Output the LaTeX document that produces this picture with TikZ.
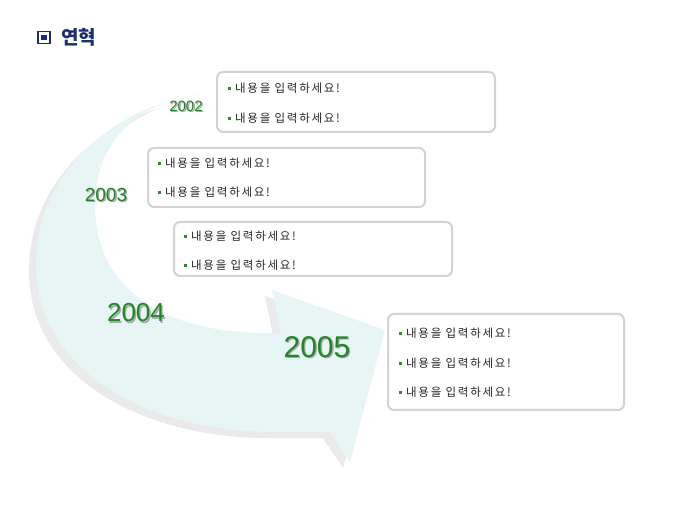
\documentclass[tikz,border=0pt]{standalone}
\usepackage{fontspec}
\setmainfont{Liberation Sans}
\newfontfamily\kr[LetterSpace=15]{Noto Sans CJK KR}
\newfontfamily\krhead{Noto Sans CJK KR}
\usepackage{tikz}
\usetikzlibrary{positioning}
\usetikzlibrary{calc}
\definecolor{arrowfill}{HTML}{E8F5F5}
\definecolor{arrowgray}{HTML}{EAEAEA}
\definecolor{yeargreen}{HTML}{23852A}
\definecolor{yearshade}{HTML}{A8A8A8}
\definecolor{boxline}{HTML}{D3D3D3}
\definecolor{bulletgreen}{HTML}{2E8B2E}
\definecolor{titlenavy}{HTML}{1C2F6A}
\newcommand{\entrytext}{\textcolor{bulletgreen}{\rule[2.5pt]{3pt}{3pt}}\hspace{4pt}내용을 입력하세요!}
\tikzstyle{entrybox}=[draw=boxline,line width=2pt,rounded corners=6pt,fill=white,inner sep=0pt]
\tikzstyle{entry}=[anchor=west,inner sep=0pt,font=\kr\fontsize{11.5}{13}\selectfont,text=black!85]
\tikzstyle{year}=[text=yeargreen,inner sep=0pt]
\tikzstyle{yearshadow}=[text=yearshade,inner sep=0pt,xshift=1.3pt,yshift=-1.3pt]
\tikzset{arrowshadow/.style={fill=arrowgray,shift={(-7,6)}},
  arrowbody/.style={fill=arrowfill}}

\begin{document}
\begin{tikzpicture}[x=1pt,y=-1pt]
    \useasboundingbox[fill=white] (0,0) rectangle (680,510);
    % title
    \node[draw=titlenavy,line width=1.8pt,fill=white,minimum size=12pt,inner sep=0pt] (icon) at (44,37.5) {};
    \node[fill=titlenavy,minimum size=5.5pt,inner sep=0pt] (icondot) at (icon.center) {};
    \node[text=titlenavy,font=\krhead\bfseries\fontsize{19}{22}\selectfont,anchor=west,inner sep=0pt] (title) at (61,37.5) {연혁};

    % the big curved arrow, shadow first
    \foreach \sty in {arrowshadow,arrowbody}
      \fill[\sty] (207,93) .. controls (110,106) and (36,175) .. (36,265)
        .. controls (36,372) and (150,432) .. (275,432)
        -- (330,432) -- (350,462) -- (385,330) -- (272,290) -- (281,333)
        .. controls (150,336) and (95,280) .. (95,205)
        .. controls (95,140) and (140,100) .. (207,93) -- cycle;

    % the boxes
    \foreach \pos/\name/\w/\h in {{(356,102)/box1/278/60}, {(286.5,177.5)/box2/277/59},
      {(313,249)/box3/278/54}, {(506,362)/box4/236/96}}
        \node[entrybox,minimum width=\w pt,minimum height=\h pt] (\name) at \pos {};

    % the entries
    \foreach \pos/\name in {{(228,88)/e1a}, {(228,118)/e1b}, {(158,163)/e2a}, {(158,192)/e2b},
      {(184,236)/e3a}, {(184,265)/e3b}, {(399,333)/e4a}, {(399,363)/e4b}, {(399,392)/e4c}}
        \node[entry] (\name) at \pos {\entrytext};

    % the years
    \foreach \pos/\name/\size/\yr in {{(186,106)/y2002/15/2002}, {(106,195)/y2003/19/2003},
      {(136,313)/y2004/26/2004}, {(317,347)/y2005/30/2005}} {
        \node[yearshadow,font=\fontsize{\size}{\size}\selectfont] at \pos {\yr};
        \node[year,font=\fontsize{\size}{\size}\selectfont] (\name) at \pos {\yr};
    }
\end{tikzpicture}
\end{document}
